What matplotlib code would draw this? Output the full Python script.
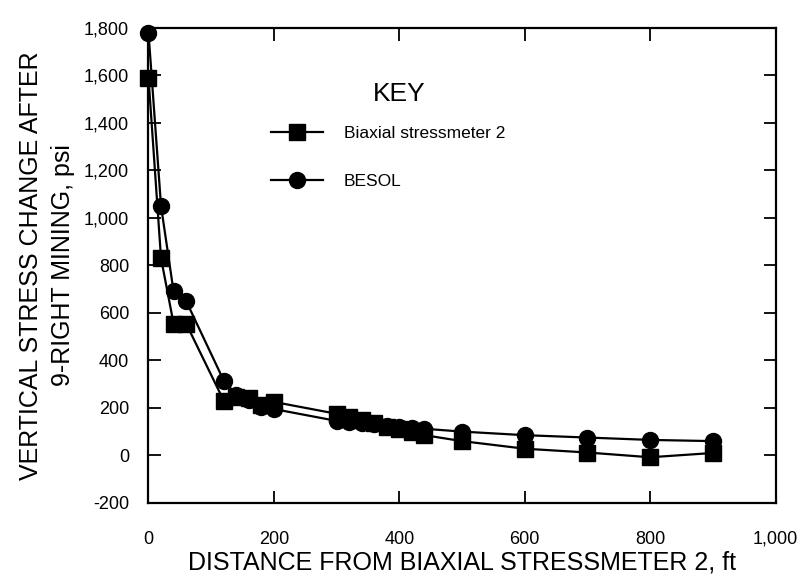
import numpy as np
import matplotlib
matplotlib.use('Agg')
import matplotlib.pyplot as plt
from matplotlib.ticker import FuncFormatter

plt.rcParams['font.family'] = ['Liberation Sans', 'DejaVu Sans']

# distance from biaxial stressmeter 2, ft
distance = [0, 20, 40, 60, 120, 140, 160, 180, 200,
            300, 320, 340, 360, 380, 400, 420, 440,
            500, 600, 700, 800, 900]

# vertical stress change, psi
biaxial = [1590, 830, 555, 555, 230, 245, 240, 210, 225,
           175, 160, 150, 135, 120, 110, 100, 85,
           60, 28, 12, -8, 10]
besol = [1780, 1050, 690, 650, 315, 255, 235, 205, 195,
         145, 140, 135, 130, 125, 120, 115, 112,
         100, 85, 75, 65, 60]

fig = plt.figure(figsize=(8.07, 5.8), dpi=100)
ax = fig.add_axes([0.184, 0.133, 0.777, 0.819])

ax.plot(distance, biaxial, color='black', lw=1.6, marker='s', ms=11.5,
        label='Biaxial stressmeter 2', clip_on=False, zorder=3)
ax.plot(distance, besol, color='black', lw=1.6, marker='o', ms=11.5,
        label='BESOL', clip_on=False, zorder=3)

ax.set_xlim(0, 1000)
ax.set_ylim(-200, 1800)
ax.set_xticks([0, 200, 400, 600, 800, 1000])
ax.set_yticks(np.arange(-200, 1801, 200))

# 千位逗号
comma = FuncFormatter(lambda v, p: f'{int(v):,}')
ax.xaxis.set_major_formatter(comma)
ax.yaxis.set_major_formatter(comma)

ax.tick_params(direction='in', length=9, width=1.3, top=True, right=True,
               labelsize=13)
ax.tick_params(axis='x', pad=20)
ax.tick_params(axis='y', pad=14)
for s in ax.spines.values():
    s.set_linewidth(1.6)

ax.set_xlabel('DISTANCE FROM BIAXIAL STRESSMETER 2, ft', fontsize=18, labelpad=2)
ax.set_ylabel('VERTICAL STRESS CHANGE AFTER\n9-RIGHT MINING, psi', fontsize=18,
              labelpad=6, linespacing=1.45)

# 图例: KEY 标题单独放
ax.text(0.40, 0.86, 'KEY', transform=ax.transAxes, fontsize=19,
        ha='center', va='center')
ax.legend(frameon=False, loc='upper left', bbox_to_anchor=(0.17, 0.826),
          fontsize=12.5, handlelength=3.0, handletextpad=1.2, labelspacing=1.9)

fig.savefig('out.png', dpi=100)
